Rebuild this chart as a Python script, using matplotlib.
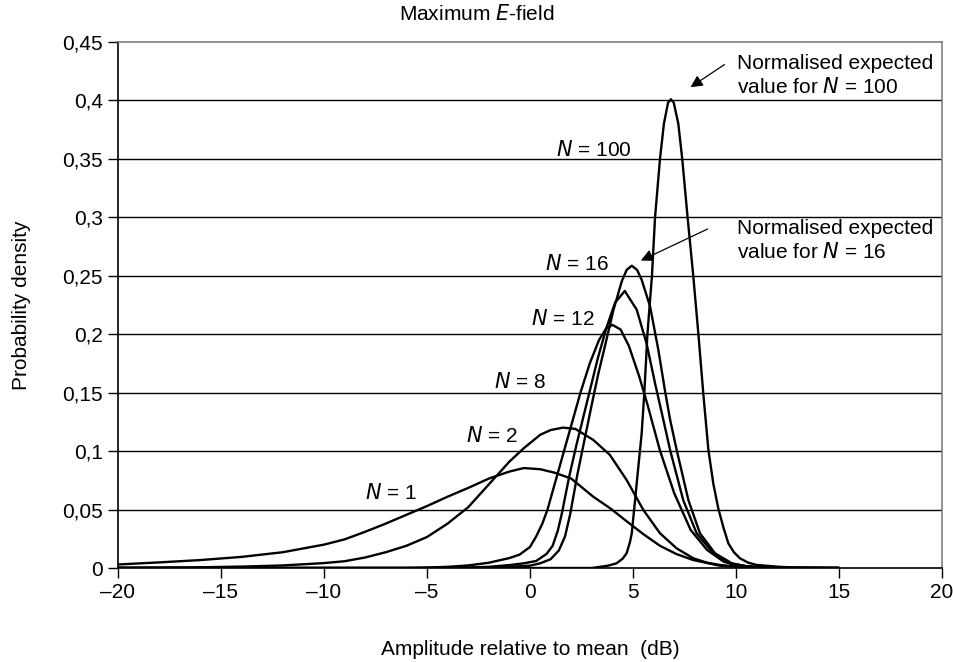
import matplotlib
matplotlib.use("Agg")
import matplotlib.pyplot as plt
from matplotlib.ticker import FuncFormatter

plt.rcParams['font.family'] = ['Liberation Sans', 'DejaVu Sans']

# ---- data ----
x_n1 = [-20, -18, -16, -14, -12, -10, -9, -8, -7, -6, -5, -4, -3, -2, -1, -0.3, 0.5, 1.2, 2.0, 3.07, 3.9, 4.69, 5.5, 6.31, 7.1, 7.93, 9.2, 10, 11, 12, 15]
y_n1 = [0.003, 0.0048, 0.0068, 0.0095, 0.0135, 0.020, 0.0245, 0.031, 0.038, 0.0455, 0.053, 0.061, 0.0685, 0.0765, 0.0825, 0.0855, 0.0845, 0.0815, 0.0765, 0.061, 0.051, 0.040, 0.029, 0.019, 0.012, 0.0068, 0.002, 0.001, 0.0004, 0.0001, 0]

x_n2 = [-20, -16, -14, -12, -10, -9, -8, -7, -6, -5, -4, -3, -2, -1, -0.3, 0.5, 1.0, 1.6, 2.2, 3.07, 3.88, 4.69, 5.5, 6.31, 7.12, 7.93, 8.6, 9.22, 10, 11, 12, 15]
y_n2 = [0.0002, 0.0006, 0.0012, 0.0022, 0.0042, 0.0058, 0.009, 0.0135, 0.019, 0.0265, 0.038, 0.052, 0.0715, 0.091, 0.1025, 0.114, 0.118, 0.1201, 0.119, 0.1096, 0.0967, 0.0753, 0.0497, 0.0297, 0.0168, 0.0083, 0.0045, 0.0026, 0.0012, 0.0004, 0.0001, 0]

x_n8 = [-20, -6, -5, -4, -3, -2, -1, -0.5, 0.0, 0.3, 0.6, 0.85, 1.25, 1.65, 2.05, 2.45, 2.9, 3.35, 3.7, 4.0, 4.4, 4.8, 5.3, 5.7, 6.3, 7.0, 7.8, 8.6, 9.4, 10, 11, 12, 15]
y_n8 = [0, 0, 0.0004, 0.001, 0.0022, 0.0045, 0.0085, 0.0115, 0.018, 0.027, 0.038, 0.05, 0.075, 0.1, 0.125, 0.15, 0.175, 0.195, 0.205, 0.208, 0.204, 0.19, 0.164, 0.14, 0.101, 0.064, 0.0325, 0.0154, 0.0054, 0.0025, 0.0006, 0.0001, 0]

x_n12 = [-20, -4, -3, -2, -1, -0.3, 0.3, 0.8, 1.1, 1.35, 1.55, 1.9, 2.25, 2.6, 2.95, 3.3, 3.72, 4.13, 4.6, 5.18, 5.66, 6.07, 6.47, 6.8, 7.44, 8.09, 8.9, 9.7, 10.5, 11.5, 15]
y_n12 = [0, 0, 0.0005, 0.001, 0.0025, 0.004, 0.006, 0.012, 0.019, 0.032, 0.047, 0.078, 0.105, 0.13, 0.155, 0.18, 0.206, 0.227, 0.237, 0.221, 0.192, 0.158, 0.127, 0.101, 0.058, 0.0297, 0.0126, 0.004, 0.0015, 0.0003, 0]

x_n16 = [-20, -3, -2, -1, 0, 0.49, 1.0, 1.4, 1.7, 1.95, 2.3, 2.65, 3.0, 3.3, 3.64, 4.04, 4.45, 4.69, 4.94, 5.2, 5.42, 5.83, 6.23, 6.55, 6.8, 7.12, 7.69, 8.25, 8.98, 9.8, 10.5, 11.5, 15]
y_n16 = [0, 0, 0.0005, 0.001, 0.002, 0.004, 0.0075, 0.015, 0.027, 0.046, 0.08, 0.11, 0.14, 0.165, 0.19, 0.22, 0.245, 0.255, 0.2586, 0.255, 0.2466, 0.2237, 0.1866, 0.152, 0.127, 0.101, 0.058, 0.0297, 0.0126, 0.004, 0.0015, 0.0003, 0]

x_n100 = [-20, 3, 3.8, 4.2, 4.5, 4.69, 4.85, 4.94, 5.1, 5.26, 5.42, 5.55, 5.7, 5.92, 6.07, 6.31, 6.5, 6.7, 6.84, 6.98, 7.2, 7.39, 7.65, 7.93, 8.17, 8.41, 8.66, 8.9, 9.14, 9.4, 9.63, 9.9, 10.19, 10.6, 11.0, 12.1, 13, 15]
y_n100 = [0, 0, 0.002, 0.004, 0.008, 0.0126, 0.022, 0.0297, 0.058, 0.0867, 0.115, 0.15, 0.2, 0.25, 0.3, 0.35, 0.38, 0.398, 0.401, 0.398, 0.38, 0.35, 0.3, 0.249, 0.201, 0.1496, 0.101, 0.072, 0.051, 0.034, 0.021, 0.0135, 0.0083, 0.0045, 0.0026, 0.001, 0.0003, 0]

series = [(x_n1, y_n1), (x_n2, y_n2), (x_n8, y_n8), (x_n12, y_n12), (x_n16, y_n16), (x_n100, y_n100)]
curve_labels = ["1", "2", "8", "12", "16", "100"]
label_pos = [(-6.75, 0.064), (-1.85, 0.113), (-0.5, 0.159), (1.6, 0.213), (2.25, 0.26), (3.1, 0.358)]

x_ticks = [-20, -15, -10, -5, 0, 5, 10, 15, 20]
y_ticks = [0, 0.05, 0.1, 0.15, 0.2, 0.25, 0.3, 0.35, 0.4, 0.45]

FS = 15

# ---- figure ----
fig = plt.figure(figsize=(9.54, 6.62), dpi=100)
ax = fig.add_axes([118/954, 1-568/662, (942-118)/954, (568-42)/662])

for xs, ys in series:
    ax.plot(xs, ys, color='black', lw=1.7, solid_joinstyle='round', solid_capstyle='round', zorder=3)

ax.set_xlim(-20, 20)
ax.set_ylim(0, 0.45)
ax.set_xticks(x_ticks)
ax.set_yticks(y_ticks)

def yfmt(v, pos):
    s = f"{v:.2f}".rstrip('0').rstrip('.')
    return s.replace('.', ',')

def xfmt(v, pos):
    return f"{int(v)}".replace('-', '\u2013')

ax.yaxis.set_major_formatter(FuncFormatter(yfmt))
ax.xaxis.set_major_formatter(FuncFormatter(xfmt))
ax.tick_params(axis='both', direction='out', length=7, width=1, labelsize=FS, color='black', pad=4)

for yv in y_ticks[1:-1]:
    ax.axhline(yv, color='black', lw=1.0, zorder=1)

ax.spines['top'].set_color('#808080')
ax.spines['right'].set_color('#808080')
ax.spines['left'].set_color('black')
ax.spines['bottom'].set_color('black')
for sp in ax.spines.values():
    sp.set_linewidth(1.2)

for lab, (lx, ly) in zip(curve_labels, label_pos):
    ax.text(lx, ly, f"$\\mathit{{N}}$ = {lab}", ha='center', va='center', fontsize=FS, zorder=4)

ax.text(10.05, 0.421, "Normalised expected\nvalue for $\\mathit{N}$ = 100", ha='left', va='center',
        fontsize=FS, linespacing=1.25)
ax.annotate("", xy=(7.68, 0.410), xytext=(9.55, 0.432),
            arrowprops=dict(arrowstyle='-|>', color='black', lw=0.9, mutation_scale=18))
ax.text(10.05, 0.28, "Normalised expected\nvalue for $\\mathit{N}$ = 16", ha='left', va='center',
        fontsize=FS, linespacing=1.25)
ax.annotate("", xy=(5.26, 0.262), xytext=(8.74, 0.291),
            arrowprops=dict(arrowstyle='-|>', color='black', lw=0.9, mutation_scale=18))

fig.text(0.5, 1-14/662, "Maximum $\\mathit{E}$-field", ha='center', va='center', fontsize=FS)
ax.set_xlabel("Amplitude relative to mean  (dB)", fontsize=FS, labelpad=27)
ax.set_ylabel("Probability density", fontsize=FS, labelpad=22)

fig.savefig("out.png", dpi=100)
